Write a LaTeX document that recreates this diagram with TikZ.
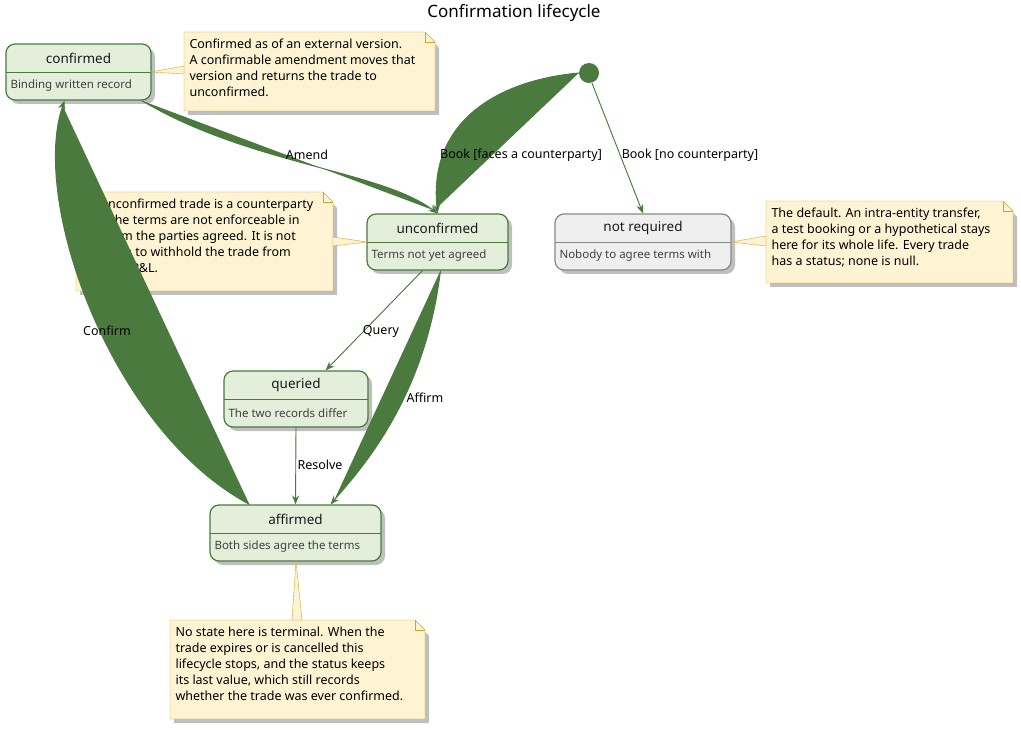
\documentclass[tikz,border=0pt]{standalone}
\usepackage{fontspec}
\setmainfont{Noto Sans}
\usetikzlibrary{positioning, arrows.meta}
\definecolor{stfill}{HTML}{E3EFDA}
\definecolor{stline}{HTML}{4A7A3E}
\definecolor{grfill}{HTML}{EFEFEF}
\definecolor{grline}{HTML}{888888}
\definecolor{ntfill}{HTML}{FEF3D3}
\definecolor{ntline}{HTML}{D2A52A}
\newcommand{\stbox}[8]{% name, x1, y1, x2, y2, title, body, colours
  \fill[black!25, rounded corners=9pt] ({#2+4},{#3+4}) rectangle ({#4+4},{#5+4});
  \node[st, #8, minimum width={#4-#2}, minimum height={#5-#3}] (#1) at ({(#2+#4)/2},{(#3+#5)/2}) {};
  \draw[#8] (#2,{#3+28}) -- (#4,{#3+28});
  \node[sttitle] (#1t) at ({(#2+#4)/2},{#3+14}) {#6};
  \node[stbody, anchor=west] (#1b) at ({#2+1},{#3+42}) {#7};
}
\newcommand{\ntbox}[6]{% name, x1, y1, x2, y2, text
  \fill[black!25] ({#2+4},{#3+4}) -- ({#4-8},{#3+4}) -- ({#4+4},{#3+16}) -- ({#4+4},{#5+4}) -- ({#2+4},{#5+4}) -- cycle;
  \draw[nt] (#2,#3) -- ({#4-10},#3) -- (#4,{#3+10}) -- (#4,#5) -- (#2,#5) -- cycle;
  \draw[ntline] ({#4-10},#3) -- ({#4-10},{#3+10}) -- (#4,{#3+10});
  \node[nttext, anchor=north west] (#1) at ({#2+2},{#3+3}) {#6};
}
\begin{document}
\begin{tikzpicture}[x=1pt, y=-1pt,
  st/.style={draw, rounded corners=9pt, line width=1.2pt, inner sep=0pt},
  green/.style={draw=stline, fill=stfill},
  grey/.style={draw=grline, fill=grfill},
  sttitle/.style={font=\fontsize{13.5}{15}\selectfont, text=black!90},
  stbody/.style={font=\fontsize{11.5}{13}\selectfont, text=black!75},
  nt/.style={draw=ntline, fill=ntfill},
  nttext/.style={align=left, font=\fontsize{12.5}{16}\selectfont},
  tr/.style={-{Stealth[length=9pt, width=7pt, inset=3pt]}, draw=stline, fill=stline, line width=0.9pt},
  lab/.style={font=\fontsize{12.5}{15}\selectfont}]
\useasboundingbox (0,0) rectangle (1021,730);
\node[font=\fontsize{17}{20}\selectfont] (title) at (514,13) {Confirmation lifecycle};

% states
\stbox{confirmed}{6}{44}{151}{100}{confirmed}{Binding written record}{green}
\stbox{unconfirmed}{367}{214}{508}{270}{unconfirmed}{Terms not yet agreed}{green}
\stbox{notreq}{555}{214}{731}{270}{not required}{Nobody to agree terms with}{grey}
\stbox{queried}{224}{371}{368}{427}{queried}{The two records differ}{green}
\stbox{affirmed}{210}{505}{381}{561}{affirmed}{Both sides agree the terms}{green}
\node[circle, fill=stline, minimum size=20pt, inner sep=0pt] (start) at (589,73) {};

% notes
\ntbox{n1}{184}{32}{435}{111}{Confirmed as of an external version.\\A confirmable amendment moves that\\version and returns the trade to\\unconfirmed.}
\ntbox{n2}{76}{192}{333}{291}{An unconfirmed trade is a counterparty\\risk: the terms are not enforceable in\\the form the parties agreed. It is not\\a reason to withhold the trade from\\risk and P\&L.}
\ntbox{n3}{766}{201}{1013}{283}{The default. An intra-entity transfer,\\a test booking or a hypothetical stays\\here for its whole life. Every trade\\has a status; none is null.}
\ntbox{n4}{170}{620}{425}{719}{No state here is terminal. When the\\trade expires or is cancelled this\\lifecycle stops, and the status keeps\\its last value, which still records\\whether the trade was ever confirmed.}

% note links
\fill[ntfill, draw=ntline] (151,72) -- (184,66) -- (184,74) -- cycle;
\fill[ntfill, draw=ntline] (367,242) -- (333,237) -- (333,246) -- cycle;
\fill[ntfill, draw=ntline] (731,242) -- (766,236) -- (766,246) -- cycle;
\fill[ntfill, draw=ntline] (296,561) -- (292,620) -- (302,620) -- cycle;

% transitions
\draw[tr] ([xshift=-10pt]confirmed.south east) .. controls (250,165) and (380,170) .. (unconfirmed.north);
\draw[tr] (start.west) .. controls (500,80) and (428,120) .. (unconfirmed.north);
\draw[tr] ([xshift=3pt]start.south) -- (notreq.north);
\draw[tr] ([xshift=-15pt]unconfirmed.south) -- ([xshift=-43pt]queried.north east);
\draw[tr] ([xshift=3pt]unconfirmed.south) .. controls (425,400) and (360,470) .. ([xshift=-51pt]affirmed.north east);
\draw[tr] (queried.south) -- (affirmed.north);
\draw[tr] ([xshift=40pt]affirmed.north west) .. controls (110,430) and (30,200) .. ([xshift=-14pt]confirmed.south);

\node[lab] (lamend) at (307,155) {Amend};
\node[lab] (lbook1) at (521,155) {Book [faces a counterparty]};
\node[lab] (lbook2) at (690,155) {Book [no counterparty]};
\node[lab] (lquery) at (381,331) {Query};
\node[lab] (laffirm) at (425,398) {Affirm};
\node[lab] (lresolve) at (320,465) {Resolve};
\node[lab] (lconfirm) at (107,331) {Confirm};
\end{tikzpicture}
\end{document}
